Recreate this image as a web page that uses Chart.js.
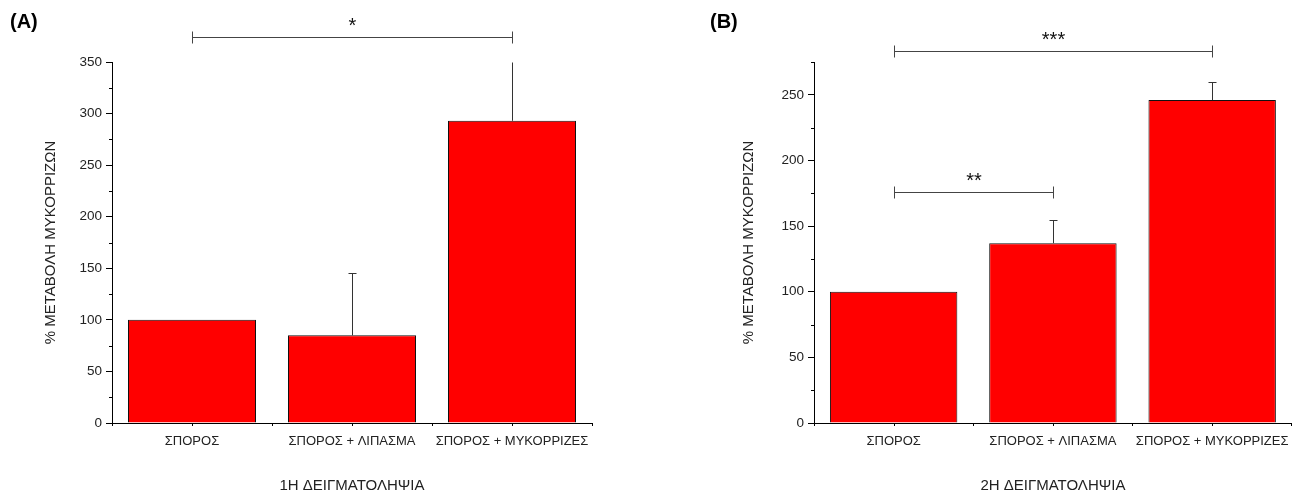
<!DOCTYPE html>
<html>
<head>
<meta charset="utf-8">
<script src="https://cdn.jsdelivr.net/npm/chart.js@4.4.1/dist/chart.umd.min.js"></script>
<style>
  body { margin: 0; background: #fff; }
  .panel { position: absolute; top: 0; height: 495px; }
  #panelA { left: 0; width: 648px; }
  #panelB { left: 648px; width: 649px; }
</style>
</head>
<body>
<div class="panel" id="panelA"><canvas id="chartA"></canvas></div>
<div class="panel" id="panelB"><canvas id="chartB"></canvas></div>
<script>
// categories shared by both samplings
const categories = ['ΣΠΟΡΟΣ', 'ΣΠΟΡΟΣ + ΛΙΠΑΣΜΑ', 'ΣΠΟΡΟΣ + ΜΥΚΟΡΡΙΖΕΣ']

// 1st sampling (A)
const valuesA = [100, 85, 293]
const errTopA = [null, 145, 350]     // upper end of error bar
const sigA = [{ from: 0, to: 2, y: 374, label: '*' }]

// 2nd sampling (B)
const valuesB = [100, 137, 246]
const errTopB = [null, 155, 260]
const sigB = [
    { from: 0, to: 1, y: 176, label: '**' },
    { from: 0, to: 2, y: 283, label: '***' }
]

const FONT = 'Arial, "Liberation Sans", sans-serif'

// error bars, minor ticks, significance brackets and panel letter
const extras = {
    id: 'extras',
    afterDatasetsDraw(chart, args, opts) {
        const ctx = chart.ctx
        const y = chart.scales.y
        const bars = chart.getDatasetMeta(0).data
        ctx.save()
        ctx.strokeStyle = '#333'
        ctx.lineWidth = 1
        bars.forEach((bar, i) => {
            const top = opts.errTop[i]
            if (top == null) return
            const px = Math.round(bar.x) + 0.5
            const yTop = Math.round(y.getPixelForValue(top)) + 0.5
            ctx.beginPath()
            ctx.moveTo(px, bar.y)
            ctx.lineTo(px, yTop)
            if (top < y.max) {          // cap hidden when the bar runs off the axis
                ctx.moveTo(px - 4, yTop)
                ctx.lineTo(px + 4, yTop)
            }
            ctx.stroke()
        })
        ctx.restore()
    },
    afterDraw(chart, args, opts) {
        const ctx = chart.ctx
        const x = chart.scales.x
        const y = chart.scales.y
        const area = chart.chartArea
        ctx.save()
        ctx.strokeStyle = '#000'
        ctx.lineWidth = 1
        // minor y ticks
        y.ticks.forEach(t => {
            if (t.value % 50 === 0) return
            const py = Math.round(y.getPixelForValue(t.value)) + 0.5
            ctx.beginPath()
            ctx.moveTo(area.left - 3, py)
            ctx.lineTo(area.left, py)
            ctx.stroke()
        })
        // small x ticks at category centres
        categories.forEach((c, i) => {
            const px = Math.round(x.getPixelForValue(i)) + 0.5
            ctx.beginPath()
            ctx.moveTo(px, area.bottom)
            ctx.lineTo(px, area.bottom + 3)
            ctx.stroke()
        })
        // significance brackets
        ctx.strokeStyle = '#444'
        ctx.fillStyle = '#111'
        ctx.font = '20px ' + FONT
        ctx.textAlign = 'center'
        ctx.textBaseline = 'alphabetic'
        opts.sig.forEach(s => {
            const x1 = Math.round(x.getPixelForValue(s.from)) + 0.5
            const x2 = Math.round(x.getPixelForValue(s.to)) + 0.5
            const py = Math.round(y.getPixelForValue(s.y)) + 0.5
            ctx.beginPath()
            ctx.moveTo(x1, py)
            ctx.lineTo(x2, py)
            ctx.moveTo(x1, py - 6)
            ctx.lineTo(x1, py + 6)
            ctx.moveTo(x2, py - 6)
            ctx.lineTo(x2, py + 6)
            ctx.stroke()
            ctx.fillText(s.label, (x1 + x2) / 2, py - 6)
        })
        // panel letter
        ctx.font = 'bold 20px ' + FONT
        ctx.textAlign = 'left'
        ctx.textBaseline = 'middle'
        ctx.fillStyle = '#000'
        ctx.fillText(opts.letter, opts.letterX, 22)
        ctx.restore()
    }
}

function makeChart(id, values, errTop, sig, yMax, xTitle, letter, axisW, titlePad, padRight, letterX) {
    return new Chart(document.getElementById(id), {
        type: 'bar',
        data: {
            labels: categories,
            datasets: [{
                data: values,
                backgroundColor: '#ff0000',
                borderColor: '#111',
                borderWidth: 1,
                barPercentage: 0.8,
                categoryPercentage: 1.0
            }]
        },
        options: {
            responsive: true,
            maintainAspectRatio: false,
            animation: false,
            layout: { padding: { top: 62, right: padRight, bottom: 0, left: 0 } },
            scales: {
                x: {
                    afterFit: s => { s.height = 72 },
                    border: { display: true, color: '#000', width: 1 },
                    grid: { drawOnChartArea: false, tickLength: 3, color: '#000' },
                    ticks: { color: '#222', font: { family: FONT, size: 13 }, padding: 8, maxRotation: 0 },
                    title: { display: true, text: xTitle, color: '#222', font: { family: FONT, size: 15 }, padding: 0 }
                },
                y: {
                    min: 0,
                    max: yMax,
                    afterFit: s => { s.width = axisW },
                    border: { display: true, color: '#000', width: 1 },
                    grid: {
                        drawOnChartArea: false,
                        tickLength: 6,
                        tickColor: c => (c.tick && c.tick.value % 50 === 0) ? '#000' : 'rgba(0,0,0,0)'
                    },
                    ticks: {
                        stepSize: 25,
                        autoSkip: false,
                        padding: 4,
                        color: '#222',
                        font: { family: FONT, size: 13.5 },
                        callback: v => v % 50 === 0 ? v : ''
                    },
                    title: {
                        display: true,
                        text: '% ΜΕΤΑΒΟΛΗ ΜΥΚΟΡΡΙΖΩΝ',
                        color: '#222',
                        font: { family: FONT, size: 15 },
                        padding: { top: titlePad, bottom: 0 }
                    }
                }
            },
            plugins: {
                legend: { display: false },
                tooltip: { enabled: false },
                extras: { errTop, sig, letter, letterX }
            }
        },
        plugins: [extras]
    })
}

makeChart('chartA', valuesA, errTopA, sigA, 350, '1Η ΔΕΙΓΜΑΤΟΛΗΨΙΑ', '(A)', 112, 42, 56, 10)
makeChart('chartB', valuesB, errTopB, sigB, 275, '2Η ΔΕΙΓΜΑΤΟΛΗΨΙΑ', '(B)', 166, 92, 3, 62)
</script>
</body>
</html>
